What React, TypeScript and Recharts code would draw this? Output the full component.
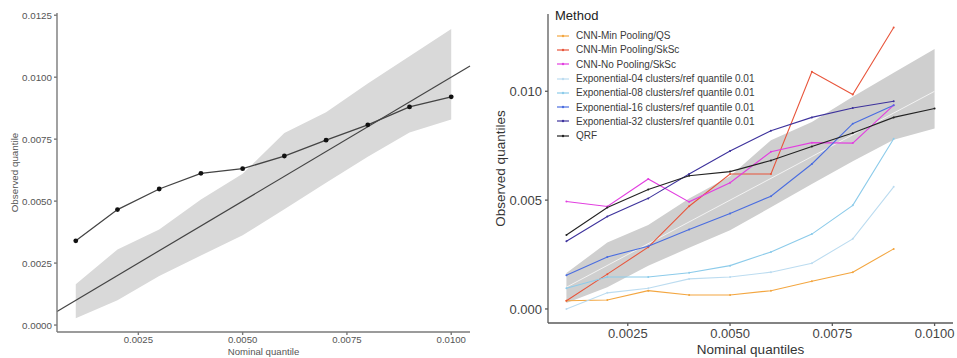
import React from 'react';
import {
  ComposedChart,
  Line,
  Area,
  XAxis,
  YAxis,
  ReferenceLine,
  Legend,
} from 'recharts';

// nominal quantile levels (x)
const nominal = [0.001, 0.002, 0.003, 0.004, 0.005, 0.006, 0.007, 0.008, 0.009, 0.01];

// grey envelope
const bandLower = [0.00027, 0.001, 0.00198, 0.00281, 0.00362, 0.00467, 0.00574, 0.00679, 0.00777, 0.00829];
const bandUpper = [0.00165, 0.00305, 0.00386, 0.00507, 0.0061, 0.00775, 0.00859, 0.00975, 0.01085, 0.01194];

// observed quantiles per method
const qrf = [0.0034, 0.00466, 0.00549, 0.00612, 0.00631, 0.00682, 0.00746, 0.00808, 0.0088, 0.00921];
const cnnMinQS = [0.00038, 0.00041, 0.00084, 0.00064, 0.00064, 0.00084, 0.00127, 0.00169, 0.00276];
const cnnMinSkSc = [0.00038, 0.0016, 0.00284, 0.00472, 0.0062, 0.0062, 0.0109, 0.00985, 0.01293];
const cnnNoSkSc = [0.00494, 0.00471, 0.00597, 0.00492, 0.0058, 0.00722, 0.00764, 0.00762, 0.00936];
const exp04 = [0.0, 0.00074, 0.00095, 0.00138, 0.00147, 0.00169, 0.0021, 0.00322, 0.00561];
const exp08 = [0.00095, 0.00147, 0.00147, 0.00166, 0.00199, 0.00262, 0.00344, 0.00476, 0.00782];
const exp16 = [0.00155, 0.00239, 0.00288, 0.00365, 0.00439, 0.00518, 0.00666, 0.00851, 0.00936];
const exp32 = [0.00311, 0.00425, 0.00508, 0.0062, 0.00726, 0.00819, 0.0088, 0.00923, 0.00954];

const xTicks = [0.0025, 0.005, 0.0075, 0.01];
const leftYTicks = [0, 0.0025, 0.005, 0.0075, 0.01, 0.0125];
const rightYTicks = [0, 0.005, 0.01];

const xDomain: [number, number] = [0.00055, 0.01045];
const leftYDomain: [number, number] = [-0.00028, 0.01259];
const rightYDomain: [number, number] = [-0.000645, 0.01355];

const methods = [
  { key: 'cnnMinQS', name: 'CNN-Min Pooling/QS', color: '#f3a640', values: cnnMinQS },
  { key: 'cnnMinSkSc', name: 'CNN-Min Pooling/SkSc', color: '#e8553b', values: cnnMinSkSc },
  { key: 'cnnNoSkSc', name: 'CNN-No Pooling/SkSc', color: '#e23fe0', values: cnnNoSkSc },
  { key: 'exp04', name: 'Exponential-04 clusters/ref quantile 0.01', color: '#bcdcf0', values: exp04 },
  { key: 'exp08', name: 'Exponential-08 clusters/ref quantile 0.01', color: '#8ccbea', values: exp08 },
  { key: 'exp16', name: 'Exponential-16 clusters/ref quantile 0.01', color: '#4a6de0', values: exp16 },
  { key: 'exp32', name: 'Exponential-32 clusters/ref quantile 0.01', color: '#3d329c', values: exp32 },
  { key: 'qrf', name: 'QRF', color: '#222222', values: qrf },
];

const chartData = nominal.map((x, i) => {
  const row: Record<string, any> = { x, band: [bandLower[i], bandUpper[i]] };
  methods.forEach(m => {
    row[m.key] = m.values[i];
  });
  return row;
});

const FONT = '"Liberation Sans", Arial, sans-serif';

const MethodLegend = () => (
  <div style={{ fontFamily: FONT }}>
    <div style={{ fontSize: 13, lineHeight: '20px', height: 20, color: '#222' }}>Method</div>
    <div style={{ marginTop: 2.5 }}>
      {methods.map(m => (
        <div
          key={m.key}
          style={{ display: 'flex', alignItems: 'center', height: 14.3, fontSize: 10, color: '#3a3a3a', whiteSpace: 'nowrap' }}
        >
          <svg width={12} height={6} style={{ marginLeft: 2, marginRight: 7 }}>
            <line x1={0} y1={3} x2={12} y2={3} stroke={m.color} strokeWidth={1.2} />
            <circle cx={6} cy={3} r={1.2} fill={m.color} />
          </svg>
          <span>{m.name}</span>
        </div>
      ))}
    </div>
  </div>
);

const LeftPanel = () => (
  <ComposedChart width={480} height={358} data={chartData} margin={{ top: 13, right: 10, left: 0, bottom: 0 }}>
    <XAxis
      dataKey="x"
      type="number"
      domain={xDomain}
      allowDataOverflow
      ticks={xTicks}
      tickFormatter={(v: number) => v.toFixed(4)}
      height={26}
      tickSize={3}
      tickMargin={1}
      stroke="#7a7a7a"
      strokeWidth={1.4}
      tick={{ fontSize: 9.6, fill: '#555', fontFamily: FONT }}
      label={{ value: 'Nominal quantile', position: 'insideBottom', offset: 3, fontSize: 9.6, fill: '#555', fontFamily: FONT }}
    />
    <YAxis
      type="number"
      domain={leftYDomain}
      allowDataOverflow
      ticks={leftYTicks}
      tickFormatter={(v: number) => v.toFixed(4)}
      width={57}
      tickSize={3}
      tickMargin={2}
      stroke="#7a7a7a"
      strokeWidth={1.4}
      tick={{ fontSize: 9.8, fill: '#555', fontFamily: FONT }}
      label={{
        value: 'Observed quantile',
        angle: -90,
        position: 'insideLeft',
        offset: 15,
        fontSize: 9.8,
        fill: '#555',
        fontFamily: FONT,
        style: { textAnchor: 'middle' },
      }}
    />
    <Area dataKey="band" type="linear" fill="#d9d9d9" fillOpacity={1} stroke="none" isAnimationActive={false} />
    <ReferenceLine
      segment={[{ x: xDomain[0], y: xDomain[0] }, { x: xDomain[1], y: xDomain[1] }]}
      stroke="#444"
      strokeWidth={1.2}
    />
    <Line
      dataKey="qrf"
      type="linear"
      stroke="#444"
      strokeWidth={1.3}
      dot={{ r: 2.4, fill: '#111', stroke: 'none' }}
      isAnimationActive={false}
    />
  </ComposedChart>
);

const RightPanel = () => (
  <ComposedChart width={477} height={358} data={chartData} margin={{ top: 14, right: 4, left: 0, bottom: 0 }}>
    <XAxis
      dataKey="x"
      type="number"
      domain={xDomain}
      allowDataOverflow
      ticks={xTicks}
      tickFormatter={(v: number) => v.toFixed(4)}
      height={35}
      tickSize={3}
      tickMargin={3}
      stroke="#5a5a5a"
      strokeWidth={1.3}
      tick={{ fontSize: 13, fill: '#444', fontFamily: FONT }}
      label={{ value: 'Nominal quantiles', position: 'insideBottom', offset: 4, fontSize: 13.5, fill: '#333', fontFamily: FONT }}
    />
    <YAxis
      type="number"
      domain={rightYDomain}
      allowDataOverflow
      ticks={rightYTicks}
      tickFormatter={(v: number) => v.toFixed(3)}
      width={68}
      tickSize={3}
      tickMargin={3}
      stroke="#5a5a5a"
      strokeWidth={1.3}
      tick={{ fontSize: 13, fill: '#444', fontFamily: FONT }}
      label={{
        value: 'Observed quantiles',
        angle: -90,
        position: 'insideLeft',
        offset: 20,
        fontSize: 13.5,
        fill: '#333',
        fontFamily: FONT,
        style: { textAnchor: 'middle' },
      }}
    />
    <Area dataKey="band" type="linear" fill="#cfcfcf" fillOpacity={1} stroke="none" isAnimationActive={false} />
    <ReferenceLine
      segment={[
        { x: nominal[0], y: nominal[0] },
        { x: nominal[nominal.length - 1], y: nominal[nominal.length - 1] },
      ]}
      stroke="#f2f2f2"
      strokeWidth={1}
    />
    {methods.map(m => (
      <Line
        key={m.key}
        dataKey={m.key}
        name={m.name}
        type="linear"
        stroke={m.color}
        strokeWidth={1.1}
        dot={{ r: 1, fill: m.color, stroke: 'none' }}
        isAnimationActive={false}
      />
    ))}
    <Legend
      layout="vertical"
      align="center"
      verticalAlign="middle"
      content={() => <MethodLegend />}
      wrapperStyle={{ left: 75, top: 6, width: 'auto', height: 'auto' }}
    />
  </ComposedChart>
);

export default function App() {
  return (
    <div style={{ position: 'absolute', left: 0, top: 0, width: 957, height: 358, background: '#fff' }}>
      <div style={{ position: 'absolute', left: 0, top: 0 }}>
        <LeftPanel />
      </div>
      <div style={{ position: 'absolute', left: 480, top: 0 }}>
        <RightPanel />
      </div>
    </div>
  );
}
